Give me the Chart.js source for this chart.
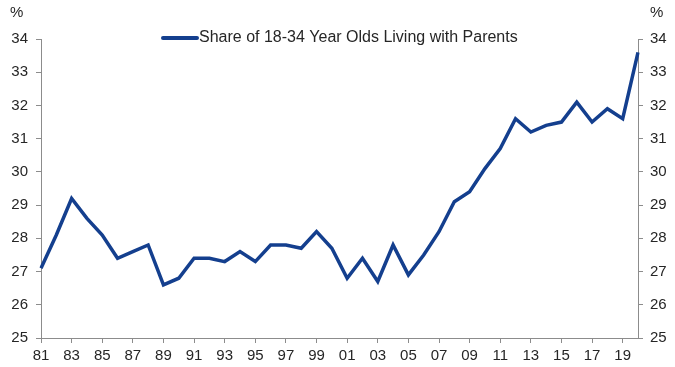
<!DOCTYPE html>
<html>
<head>
<meta charset="utf-8">
<script src="https://cdn.jsdelivr.net/npm/chart.js@4"></script>
<style>
  html, body { margin: 0; padding: 0; background: #fff; }
  #wrap { width: 675px; height: 367px; }
</style>
</head>
<body>
<div id="wrap"><canvas id="chart" width="675" height="367"></canvas></div>
<script>
// data
const years = [];
for (let y = 1981; y <= 2020; y++) years.push(y);
const shareLivingWithParents = [
    27.1, 28.1, 29.2, 28.6, 28.1, 27.4, 27.6, 27.8, 26.6, 26.8,
    27.4, 27.4, 27.3, 27.6, 27.3, 27.8, 27.8, 27.7, 28.2, 27.7,
    26.8, 27.4, 26.7, 27.8, 26.9, 27.5, 28.2, 29.1, 29.4, 30.1,
    30.7, 31.6, 31.2, 31.4, 31.5, 32.1, 31.5, 31.9, 31.6, 33.6
];
const seriesLabel = 'Share of 18-34 Year Olds Living with Parents';
const yMin = 25;
const yMax = 34;

const LINE_COLOR = '#143f8e';
const AXIS_COLOR = '#8c8c8c';
const TEXT_COLOR = '#262626';
const FONT = 'Arial, "Liberation Sans", sans-serif';

// legend + "%" labels drawn by hand so they can sit over the plot area
const extras = {
    id: 'extras',
    afterDraw(chart) {
        const ctx = chart.ctx;
        ctx.save();
        ctx.fillStyle = TEXT_COLOR;
        ctx.font = '15px ' + FONT;
        ctx.textBaseline = 'middle';
        ctx.textAlign = 'left';
        ctx.fillText('%', 10, 13);
        ctx.fillText('%', 650, 13);

        // legend
        ctx.strokeStyle = LINE_COLOR;
        ctx.lineWidth = 4;
        ctx.lineCap = 'round';
        ctx.beginPath();
        ctx.moveTo(163, 38);
        ctx.lineTo(197, 38);
        ctx.stroke();
        ctx.font = '16px ' + FONT;
        ctx.fillText(chart.data.datasets[0].label, 199, 38);
        ctx.restore();
    }
};

const yTicks = {
    stepSize: 1,
    color: TEXT_COLOR,
    font: { family: FONT, size: 15 },
    padding: 8
};

new Chart(document.getElementById('chart'), {
    type: 'line',
    data: {
        labels: years,
        datasets: [{
            label: seriesLabel,
            data: shareLivingWithParents,
            borderColor: LINE_COLOR,
            backgroundColor: LINE_COLOR,
            borderWidth: 3.5,
            pointRadius: 0,
            tension: 0,
            borderJoinStyle: 'miter',
            yAxisID: 'y'
        }]
    },
    options: {
        responsive: false,
        animation: false,
        layout: { padding: { top: 39, bottom: 0, left: 0, right: 0 } },
        plugins: {
            legend: { display: false },
            tooltip: { enabled: false }
        },
        scales: {
            x: {
                offset: false,
                grid: { drawOnChartArea: false, drawTicks: true, tickLength: 5, color: AXIS_COLOR },
                border: { display: true, color: AXIS_COLOR, width: 1 },
                ticks: {
                    autoSkip: false,
                    maxRotation: 0,
                    color: TEXT_COLOR,
                    font: { family: FONT, size: 15 },
                    padding: 4,
                    callback: function (val, i) {
                        const yr = years[i];
                        if (yr % 2 === 0) return null;
                        return String(yr).slice(2);
                    }
                },
                afterFit(scale) { scale.height = 29; }
            },
            y: {
                position: 'left',
                min: yMin,
                max: yMax,
                grid: { drawOnChartArea: false, drawTicks: true, tickLength: 5, color: AXIS_COLOR },
                border: { display: true, color: AXIS_COLOR, width: 1 },
                ticks: yTicks,
                afterFit(scale) { scale.width = 41; }
            },
            y2: {
                position: 'right',
                min: yMin,
                max: yMax,
                grid: { drawOnChartArea: false, drawTicks: true, tickLength: 5, color: AXIS_COLOR },
                border: { display: true, color: AXIS_COLOR, width: 1 },
                ticks: Object.assign({}, yTicks, { padding: 7 }),
                afterFit(scale) { scale.width = 37; }
            }
        }
    },
    plugins: [extras]
});
</script>
</body>
</html>
